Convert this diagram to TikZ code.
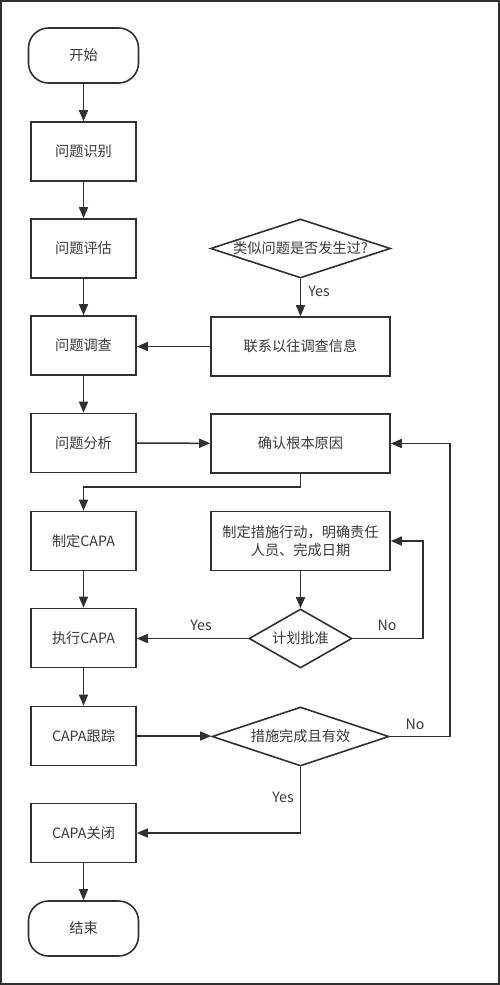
\documentclass[tikz,border=0pt]{standalone}
\usepackage{fontspec}
\newfontfamily\cjk{Noto Sans CJK SC}
\usetikzlibrary{arrows.meta,shapes.geometric}
\definecolor{ln}{HTML}{303030}
\definecolor{tx}{HTML}{383838}
\tikzset{
  base/.style={draw=ln,line width=1.6pt,text=tx,font=\cjk\fontsize{14.2}{18}\selectfont,inner sep=0pt,align=center},
  procbox/.style={base,rectangle,minimum width=105pt,minimum height=59pt},
  widebox/.style={base,rectangle,minimum width=179pt,minimum height=59pt},
  termbox/.style={base,rectangle,rounded corners=20pt,minimum width=110pt,minimum height=55pt},
  decbox/.style={base,diamond,minimum height=59pt},
  arr/.style={draw=ln,line width=1.5pt,-{Triangle[length=11pt,width=9pt]}},
  lbl/.style={text=tx,font=\cjk\fontsize{14.2}{18}\selectfont,inner sep=0pt}
}
\begin{document}
\begin{tikzpicture}[x=1pt,y=-1pt]
\useasboundingbox (0,0) rectangle (500,985);
\draw[draw=ln,line width=2pt] (1,1) rectangle (498.5,983.5);
% left column
\node[termbox] (start) at (83.5,55.5) {开始};
\node[procbox] (ident) at (83.5,151.5) {问题识别};
\node[procbox] (eval) at (83.5,248.5) {问题评估};
\node[procbox] (inv) at (83.5,345.5) {问题调查};
\node[procbox] (anal) at (83.5,443) {问题分析};
\node[procbox] (plan) at (83.5,541) {制定CAPA};
\node[procbox] (exec) at (83.5,638) {执行CAPA};
\node[procbox] (track) at (83.5,736) {CAPA跟踪};
\node[procbox] (close) at (83.5,833) {CAPA关闭};
\node[termbox] (end) at (83.5,928.5) {结束};
% right column
\node[decbox,minimum width=180pt] (similar) at (300.5,248.5) {\makebox[0pt]{类似问题是否发生过?}};
\node[widebox] (contact) at (300.5,346.5) {联系以往调查信息};
\node[widebox] (confirm) at (300.5,443.5) {确认根本原因};
\node[widebox] (action) at (300.5,541) {制定措施行动，明确责任\\人员、完成日期};
\node[decbox,minimum width=103pt] (approve) at (300.5,638.5) {\makebox[0pt]{计划批准}};
\node[decbox,minimum width=177pt] (done) at (300.5,736.5) {\makebox[0pt]{措施完成且有效}};
% helper coordinates
\coordinate (k1) at (300.5,487);
\coordinate (k2) at (423,541);
\coordinate (k3) at (450,443.5);
% connectors
\draw[arr] (start) -- (ident);
\draw[arr] (ident) -- (eval);
\draw[arr] (eval) -- (inv);
\draw[arr] (inv) -- (anal);
\draw[arr] (plan) -- (exec);
\draw[arr] (exec) -- (track);
\draw[arr] (close) -- (end);
\draw[arr] (similar) -- (contact);
\draw[arr] (contact.west) -- (inv.east |- contact.west);
\draw[arr] (anal) -- (confirm);
\draw[arr] (confirm.south) -- (k1) -| (plan.north);
\draw[arr] (action) -- (approve);
\draw[arr] (approve.west) -- (exec.east |- approve.west);
\draw[arr] (approve.east) -| (k2) -- (action.east);
\draw[arr] (track.east) -- (done.west |- track.east);
\draw[arr] (done.east) -| (k3) -- (confirm.east);
\draw[arr] (done.south) |- (close.east);
% labels
\node[lbl] (lyes1) at (319,291) {Yes};
\node[lbl] (lyes2) at (201,625) {Yes};
\node[lbl] (lno1) at (387,625) {No};
\node[lbl] (lno2) at (415,724) {No};
\node[lbl] (lyes3) at (283,797) {Yes};
\end{tikzpicture}
\end{document}
